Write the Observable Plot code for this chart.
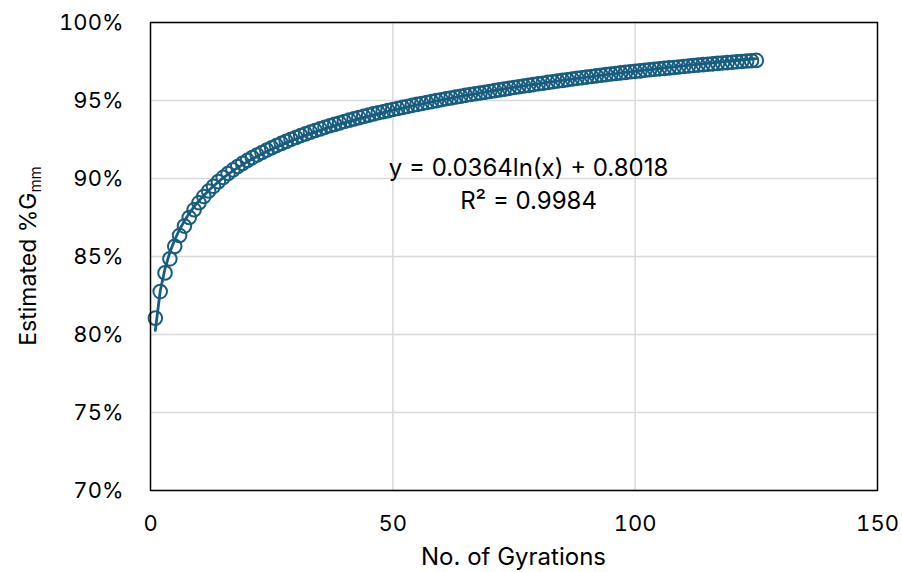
<!DOCTYPE html>
<html>
<head>
<meta charset="utf-8">
<script src="https://cdn.jsdelivr.net/npm/d3@7"></script>
<script src="https://cdn.jsdelivr.net/npm/@observablehq/plot@0.6"></script>
<style>
  html, body { margin: 0; padding: 0; background: #fff; }
  #chart { width: 902px; height: 572px; }
</style>
</head>
<body>
<div id="chart"></div>
<script>
// Estimated %Gmm (percent) for gyrations 1..125
const gmmPercent = [
  81.05, 82.75, 83.95, 84.85, 85.65, 86.35, 86.95, 87.50, 88.00, 88.45,
  88.85, 89.20, 89.50, 89.80, 90.07, 90.32, 90.55, 90.77, 90.97, 91.16,
  91.34, 91.51, 91.67, 91.82, 91.97, 92.11, 92.25, 92.38, 92.51, 92.63,
  92.75, 92.86, 92.97, 93.08, 93.18, 93.28, 93.38, 93.47, 93.56, 93.65,
  93.74, 93.82, 93.90, 93.98, 94.06, 94.14, 94.21, 94.28, 94.35, 94.42,
  94.49, 94.56, 94.62, 94.69, 94.75, 94.81, 94.87, 94.93, 94.99, 95.05,
  95.11, 95.16, 95.22, 95.27, 95.33, 95.38, 95.43, 95.48, 95.53, 95.58,
  95.63, 95.68, 95.73, 95.78, 95.83, 95.88, 95.93, 95.97, 96.02, 96.07,
  96.11, 96.16, 96.20, 96.25, 96.29, 96.33, 96.38, 96.42, 96.46, 96.50,
  96.54, 96.58, 96.62, 96.66, 96.70, 96.73, 96.77, 96.80, 96.84, 96.87,
  96.90, 96.94, 96.97, 97.00, 97.03, 97.06, 97.09, 97.12, 97.15, 97.18,
  97.21, 97.24, 97.27, 97.30, 97.32, 97.35, 97.38, 97.40, 97.43, 97.45,
  97.48, 97.50, 97.53, 97.55, 97.57
];
const xTicks = [0, 50, 100, 150];
const yTicks = [0.70, 0.75, 0.80, 0.85, 0.90, 0.95, 1.00];
const equationLines = ["y = 0.0364ln(x) + 0.8018", "R² = 0.9984"];
const equationAnchor = [{x: 78, y: 0.9066}, {x: 78, y: 0.8855}];
const xLabel = "No. of Gyrations";
const yLabelMain = "Estimated %G";
const yLabelSub = "mm";

const color = "#175d7f";
const font = "Inter, 'Open Sans', sans-serif";

const data = gmmPercent.map((v, i) => ({gyr: i + 1, gmm: v / 100}));

// Logarithmic trendline fitted from the data (least squares on ln x)
const lx = data.map(d => Math.log(d.gyr));
const mx = d3.mean(lx), my = d3.mean(data, d => d.gmm);
const slope = d3.sum(data, (d, i) => (lx[i] - mx) * (d.gmm - my)) / d3.sum(lx, v => (v - mx) ** 2);
const intercept = my - slope * mx;
const trend = data.map(d => ({gyr: d.gyr, fit: intercept + slope * Math.log(d.gyr)}));

const eqData = equationLines.map((t, i) => ({text: t, ...equationAnchor[i]}));

const W = 902, H = 572;
const mL = 150, mR = 25, mT = 22, mB = 82;

const plot = Plot.plot({
  width: W, height: H,
  marginLeft: mL, marginRight: mR, marginTop: mT, marginBottom: mB,
  style: {fontFamily: font, fontSize: "22px", color: "#000", background: "#fff"},
  x: {domain: [0, 150]},
  y: {domain: [0.70, 1.00]},
  marks: [
    Plot.gridY(yTicks, {stroke: "#d9d9d9", strokeOpacity: 1, strokeWidth: 1.5}),
    Plot.gridX([50, 100], {stroke: "#d9d9d9", strokeOpacity: 1, strokeWidth: 1.5}),
    Plot.axisX({ticks: xTicks, tickSize: 0, tickPadding: 25, label: null, fontSize: 22}),
    Plot.axisY({ticks: yTicks, tickSize: 0, tickPadding: 27, tickFormat: d3.format(".0%"), label: null, fontSize: 22}),
    Plot.line(trend, {x: "gyr", y: "fit", stroke: color, strokeWidth: 2.8}),
    Plot.dot(data, {x: "gyr", y: "gmm", r: 6.8, stroke: color, strokeWidth: 2, fill: "none"}),
    Plot.text(eqData, {x: "x", y: "y", text: "text", fontSize: 24, fill: "#000", textAnchor: "middle"}),
    Plot.frame({stroke: "#000", strokeWidth: 1.5})
  ]
});

document.getElementById("chart").appendChild(plot);

const svg = d3.select(plot);
// x axis title
svg.append("text")
  .attr("x", mL + (W - mL - mR) / 2)
  .attr("y", 565)
  .attr("text-anchor", "middle")
  .attr("font-family", font)
  .attr("font-size", 24)
  .attr("fill", "#000")
  .text(xLabel);
// y axis title with subscript
const yt = svg.append("text")
  .attr("transform", `translate(36, ${mT + (H - mT - mB) / 2}) rotate(-90)`)
  .attr("text-anchor", "middle")
  .attr("font-family", font)
  .attr("font-size", 23)
  .attr("fill", "#000");
yt.append("tspan").text(yLabelMain);
yt.append("tspan").attr("font-size", 15).attr("dy", "0.35em").text(yLabelSub);
</script>
</body>
</html>
